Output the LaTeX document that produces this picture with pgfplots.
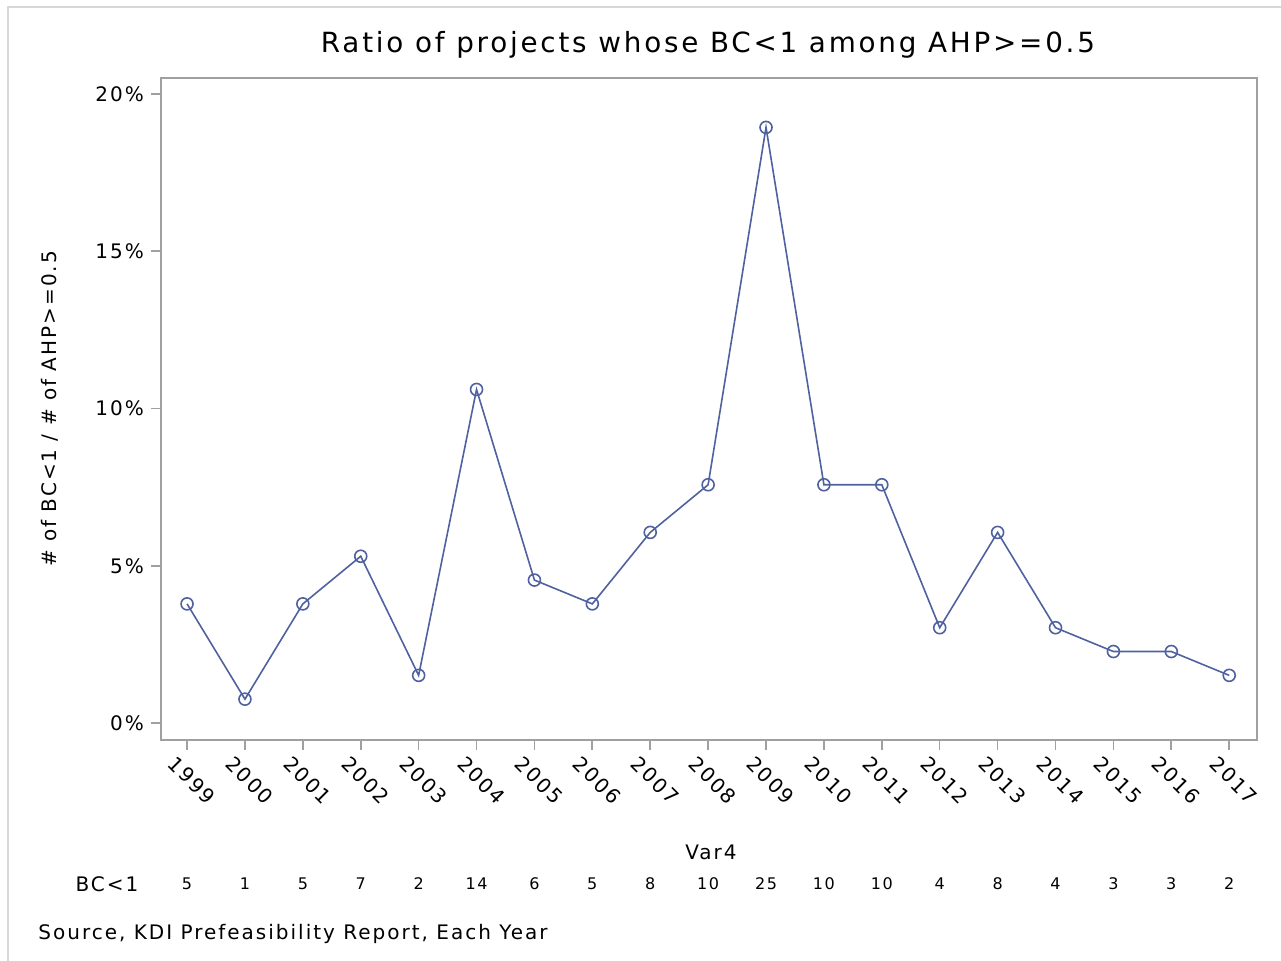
\documentclass[border=0pt]{standalone}
\usepackage{pgfplots}
\pgfplotsset{compat=1.18}
\usepackage{pgfplotstable}
\usepackage{fontspec}
\setmainfont{DejaVu Sans}[LetterSpace=10]
\definecolor{sasblue}{RGB}{80,97,160}
\definecolor{axgray}{RGB}{160,160,160}
\definecolor{framegray}{RGB}{215,215,215}

% year, ratio (%) = BC<1 count / 132, count
\pgfplotstableread{
year ratio n
1999 3.788 5
2000 0.758 1
2001 3.788 5
2002 5.303 7
2003 1.515 2
2004 10.606 14
2005 4.545 6
2006 3.788 5
2007 6.061 8
2008 7.576 10
2009 18.939 25
2010 7.576 10
2011 7.576 10
2012 3.030 4
2013 6.061 8
2014 3.030 4
2015 2.273 3
2016 2.273 3
2017 1.515 2
}\ratios

\begin{document}
\begin{tikzpicture}
\useasboundingbox (0,0) rectangle (640.5pt,-480.5pt);
\draw[framegray, line width=0.8pt] (4pt,-490pt) -- (4pt,-3.5pt) -- (650pt,-3.5pt);

\begin{axis}[
    at={(80.5pt,-370pt)}, anchor=south west,
    scale only axis,
    width=548pt, height=331pt,
    xmin=1998.55, xmax=2017.48,
    ymin=-0.54, ymax=20.51,
    clip=false,
    axis line style={axgray, line width=0.8pt},
    tick style={axgray, line width=0.8pt},
    major tick length=5pt,
    tick align=outside,
    xtick pos=lower, ytick pos=left,
    xtick={1999,...,2017},
    ytick={0,5,10,15,20},
    yticklabel={\pgfmathprintnumber{\tick}\%},
    /pgf/number format/assume math mode=true,
    x tick label style={/pgf/number format/1000 sep={}, rotate=-45, anchor=north west, font=\fontsize{10}{12}\selectfont, inner sep=1pt, xshift=-3pt, yshift=-4pt},
    y tick label style={font=\fontsize{10}{12}\selectfont},
]
\addplot[sasblue, line width=0.8pt, mark=o, mark size=3pt, mark options={solid}]
    table[x=year, y=ratio] {\ratios};
\addplot[draw=none, mark=none, nodes near coords, point meta=explicit symbolic,
    nodes near coords style={anchor=center, font=\fontsize{8}{10}\selectfont, text=black}]
    table[x=year, y expr=-5.12, meta=n] {\ratios};
\end{axis}

\node[font=\fontsize{13.9}{16}\selectfont] at (354pt,-22.5pt) {Ratio of projects whose BC<1 among AHP>=0.5};
\node[font=\fontsize{10}{12}\selectfont, rotate=90] at (25pt,-204.5pt) {\# of BC<1 / \# of AHP>=0.5};
\node[font=\fontsize{10}{12}\selectfont] at (355.5pt,-426pt) {Var4};
\node[font=\fontsize{10}{12}\selectfont] at (53.5pt,-442pt) {BC<1};
\node[font=\fontsize{10}{12}\selectfont, anchor=west, inner sep=0pt] at (19pt,-467pt) {Source, KDI Prefeasibility Report, Each Year};
\end{tikzpicture}
\end{document}
